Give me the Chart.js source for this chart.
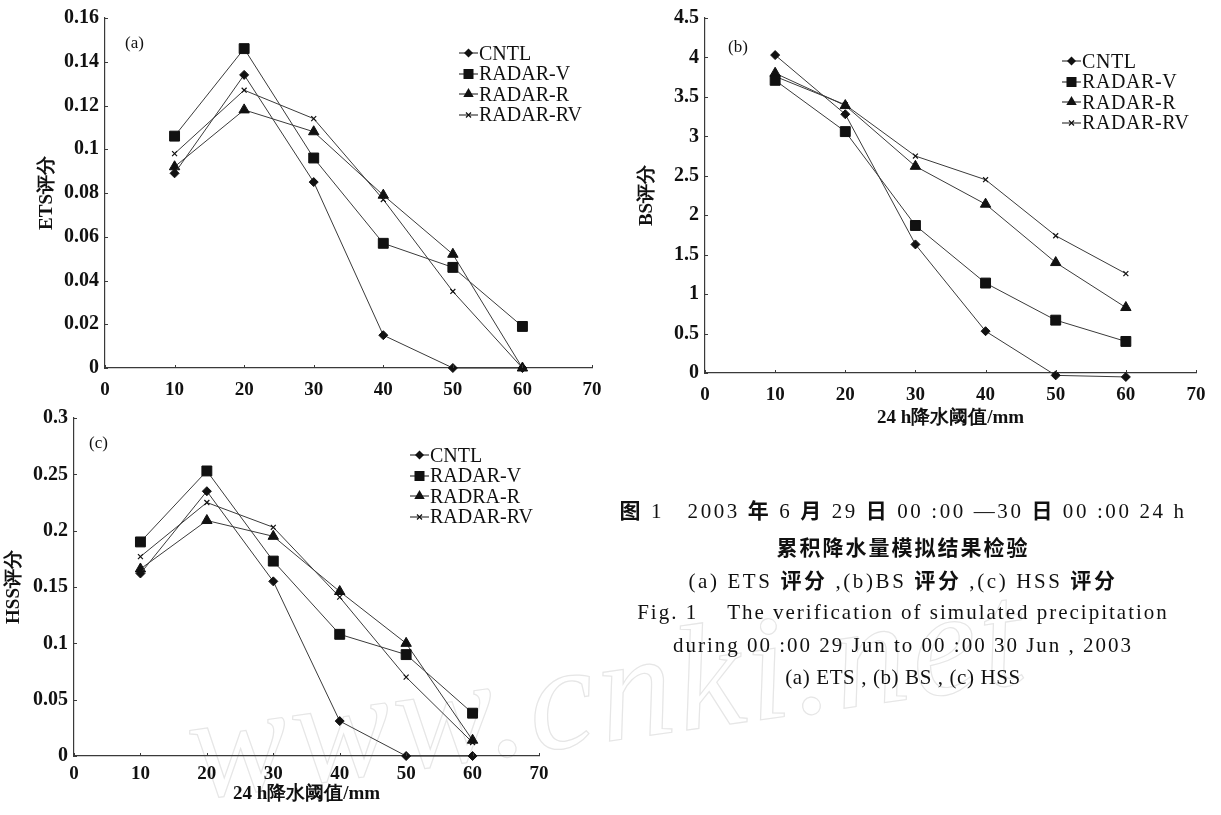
<!DOCTYPE html>
<html>
<head>
<meta charset="utf-8">
<script src="https://cdn.jsdelivr.net/npm/chart.js@4.4.1/dist/chart.umd.min.js"></script>
<style>
  html, body { margin: 0; padding: 0; background: #fff; }
  body { width: 1221px; height: 815px; position: relative; overflow: hidden; font-family: "Liberation Serif", "DejaVu Serif", serif; color: #111; }
  canvas { position: absolute; }
  .legend { position: absolute; font-size: 20px; color: #111; }
  .legend div { display: flex; align-items: center; height: 20.5px; white-space: nowrap; }
  .legend svg { flex: none; margin-right: 1px; }
  .tag { position: absolute; font-size: 17px; line-height: 20px; }
  .cap { position: absolute; left: 585px; width: 636px; text-align: center; height: 33px; line-height: 33px; font-size: 21px; white-space: nowrap; }
  .cj { font-family: "Noto Sans CJK SC", sans-serif; font-weight: 700; font-size: 21px; }
  .wm { position: absolute; left: 200px; top: 662px; font: italic 150px "Liberation Serif", serif; color: transparent;
        -webkit-text-stroke: 1.2px #e6e6e6; transform: rotate(-8deg); transform-origin: left bottom; white-space: nowrap; letter-spacing: 4px; }
</style>
</head>
<body>
<div class="wm">www.cnki.net</div>

<canvas id="ets" width="620" height="405" style="left:0;top:0"></canvas>
<canvas id="bs" width="621" height="435" style="left:600px;top:0"></canvas>
<canvas id="hss" width="600" height="415" style="left:0;top:400px"></canvas>

<div class="tag" style="left:125px;top:33px">(a)</div>
<div class="tag" style="left:728px;top:37px">(b)</div>
<div class="tag" style="left:89px;top:433px">(c)</div>

<div class="legend" id="legA" style="left:459px;top:43px"></div>
<div class="legend" id="legB" style="left:1062px;top:51px;letter-spacing:0.6px"></div>
<div class="legend" id="legC" style="left:410px;top:445px"></div>

<div class="cap" style="top:493px;letter-spacing:2.6px"><span class="cj">图</span> 1&nbsp;&nbsp;&nbsp;2003 <span class="cj">年</span> 6 <span class="cj">月</span> 29 <span class="cj">日</span> 00 :00 —30 <span class="cj">日</span> 00 :00 24 h</div>
<div class="cap cj" style="top:530px;letter-spacing:2px">累积降水量模拟结果检验</div>
<div class="cap" style="top:563px;letter-spacing:2.6px">(a) ETS <span class="cj">评分</span> ,(b)BS <span class="cj">评分</span> ,(c) HSS <span class="cj">评分</span></div>
<div class="cap" style="top:596px;letter-spacing:2px">Fig. 1&nbsp;&nbsp;&nbsp;&nbsp;The verification of simulated precipitation</div>
<div class="cap" style="top:629px;letter-spacing:2px">during 00 :00 29 Jun to 00 :00 30 Jun , 2003</div>
<div class="cap" style="top:661px;letter-spacing:0.6px">(a) ETS , (b) BS , (c) HSS</div>

<script>
// 24 h precipitation thresholds (mm)
const THRESHOLDS = [10, 20, 30, 40, 50, 60];
const X_RANGE = [0, 70, 10];

const NAMES_AB = ['CNTL', 'RADAR-V', 'RADAR-R', 'RADAR-RV'];
const NAMES_C = ['CNTL', 'RADAR-V', 'RADRA-R', 'RADAR-RV'];

// (a) ETS
const ETS_Y_RANGE = [0, 0.16, 0.02];
const ETS_CNTL = [0.089, 0.134, 0.085, 0.015, 0, 0];
const ETS_V = [0.106, 0.146, 0.096, 0.057, 0.046, 0.019];
const ETS_R = [0.092, 0.118, 0.108, 0.079, 0.052, 0];
const ETS_RV = [0.098, 0.127, 0.114, 0.077, 0.035, 0];

// (b) BS
const BS_Y_RANGE = [0, 4.5, 0.5];
const BS_CNTL = [4.03, 3.28, 1.63, 0.53, -0.03, -0.05];
const BS_V = [3.71, 3.06, 1.87, 1.14, 0.67, 0.40];
const BS_R = [3.80, 3.39, 2.62, 2.14, 1.40, 0.83];
const BS_RV = [3.76, 3.40, 2.75, 2.45, 1.74, 1.26];

// (c) HSS
const HSS_Y_RANGE = [0, 0.3, 0.05];
const HSS_CNTL = [0.162, 0.235, 0.155, 0.031, 0, 0];
const HSS_V = [0.190, 0.253, 0.173, 0.108, 0.090, 0.038];
const HSS_R = [0.166, 0.209, 0.195, 0.146, 0.100, 0.014];
const HSS_RV = [0.177, 0.225, 0.203, 0.141, 0.070, 0.012];

const LINE = '#3a3a3a';
const MARK = '#111';
const STYLES = ['rectRot', 'rect', 'triangle', 'crossRot'];
const RADII = [4.5, 7, 6, 3.5];
const SERIF = '"Liberation Serif", "DejaVu Serif", serif';

// axis ticks in the source point inwards, so draw them ourselves
const innerTicks = {
  id: 'innerTicks',
  afterDatasetsDraw(chart) {
    const { ctx, chartArea, scales } = chart;
    ctx.save();
    ctx.strokeStyle = LINE;
    ctx.lineWidth = 1;
    ctx.beginPath();
    scales.x.ticks.forEach(t => {
      const px = Math.round(scales.x.getPixelForValue(t.value)) + 0.5;
      ctx.moveTo(px, chartArea.bottom);
      ctx.lineTo(px, chartArea.bottom - 3);
    });
    scales.y.ticks.forEach(t => {
      const py = Math.round(scales.y.getPixelForValue(t.value)) + 0.5;
      ctx.moveTo(chartArea.left, py);
      ctx.lineTo(chartArea.left + 3, py);
    });
    ctx.stroke();
    ctx.restore();
  }
};

function fmt(v) { return String(+v.toFixed(4)); }

function makeChart(id, cfg) {
  const datasets = cfg.series.map((vals, i) => ({
    label: cfg.names[i],
    data: THRESHOLDS.map((x, j) => ({ x, y: vals[j] })),
    borderColor: LINE,
    borderWidth: 1,
    pointStyle: STYLES[i],
    pointRadius: RADII[i],
    pointBackgroundColor: MARK,
    pointBorderColor: MARK,
    pointBorderWidth: i === 3 ? 1.2 : 1,
    tension: 0,
    clip: false
  }));

  return new Chart(document.getElementById(id), {
    type: 'line',
    data: { datasets },
    plugins: [innerTicks],
    options: {
      responsive: false,
      animation: false,
      events: [],
      layout: { padding: cfg.pad },
      plugins: { legend: { display: false }, tooltip: { enabled: false } },
      scales: {
        x: {
          type: 'linear',
          min: X_RANGE[0], max: X_RANGE[1],
          grid: { display: false, drawTicks: false },
          border: { color: LINE, width: 1.2 },
          ticks: { stepSize: X_RANGE[2], color: '#111', padding: cfg.xpad, font: { family: SERIF, size: 19, weight: 'bold' } },
          title: cfg.xtitle ? { display: true, text: cfg.xtitle, color: '#111', padding: { top: 2, bottom: 4 }, font: { family: SERIF, size: 19, weight: 'bold' } } : { display: false },
          afterFit: s => { s.height = cfg.xh; }
        },
        y: {
          min: cfg.yrange[0], max: cfg.yrange[1],
          grid: { display: false, drawTicks: false },
          border: { color: LINE, width: 1.2 },
          ticks: { stepSize: cfg.yrange[2], color: '#111', padding: 6, callback: v => fmt(v), font: { family: SERIF, size: 20, weight: 'bold' } },
          title: { display: true, text: cfg.ytitle, color: '#111', padding: { top: 3, bottom: 3 }, font: { family: SERIF, size: 19, weight: 'bold' } },
          afterFit: s => { s.width = cfg.yw; }
        }
      }
    }
  });
}

function legendMarker(i) {
  const c = 9.5, y = 10;
  let shape = '';
  if (i === 0) shape = `<polygon points="${c},${y - 4.5} ${c + 4.5},${y} ${c},${y + 4.5} ${c - 4.5},${y}" fill="${MARK}"/>`;
  if (i === 1) shape = `<rect x="${c - 5}" y="${y - 5}" width="10" height="10" fill="${MARK}"/>`;
  if (i === 2) shape = `<polygon points="${c},${y - 6} ${c + 5.2},${y + 3} ${c - 5.2},${y + 3}" fill="${MARK}"/>`;
  if (i === 3) shape = `<path d="M${c - 2.5} ${y - 2.5}L${c + 2.5} ${y + 2.5}M${c + 2.5} ${y - 2.5}L${c - 2.5} ${y + 2.5}" stroke="${MARK}" stroke-width="1.2"/>`;
  return `<svg width="19" height="20" viewBox="0 0 19 20"><line x1="0" y1="${y}" x2="19" y2="${y}" stroke="${LINE}" stroke-width="1.2"/>${shape}</svg>`;
}

function buildLegend(id, names) {
  document.getElementById(id).innerHTML = names.map((n, i) => `<div>${legendMarker(i)}<span>${n}</span></div>`).join('');
}

makeChart('ets', {
  names: NAMES_AB, series: [ETS_CNTL, ETS_V, ETS_R, ETS_RV], yrange: ETS_Y_RANGE,
  ytitle: 'ETS评分', pad: { left: 33, top: 17, right: 28, bottom: 0 }, yw: 72, xh: 37, xpad: 11
});
makeChart('bs', {
  names: NAMES_AB, series: [BS_CNTL, BS_V, BS_R, BS_RV], yrange: BS_Y_RANGE,
  ytitle: 'BS评分', xtitle: '24 h降水阈值/mm', pad: { left: 33, top: 18, right: 25, bottom: 2 }, yw: 72, xh: 60, xpad: 11
});
makeChart('hss', {
  names: NAMES_C, series: [HSS_CNTL, HSS_V, HSS_R, HSS_RV], yrange: HSS_Y_RANGE,
  ytitle: 'HSS评分', xtitle: '24 h降水阈值/mm', pad: { left: 0, top: 18, right: 61, bottom: 6 }, yw: 74, xh: 53, xpad: 7
});

buildLegend('legA', NAMES_AB);
buildLegend('legB', NAMES_AB);
buildLegend('legC', NAMES_C);
</script>
</body>
</html>
